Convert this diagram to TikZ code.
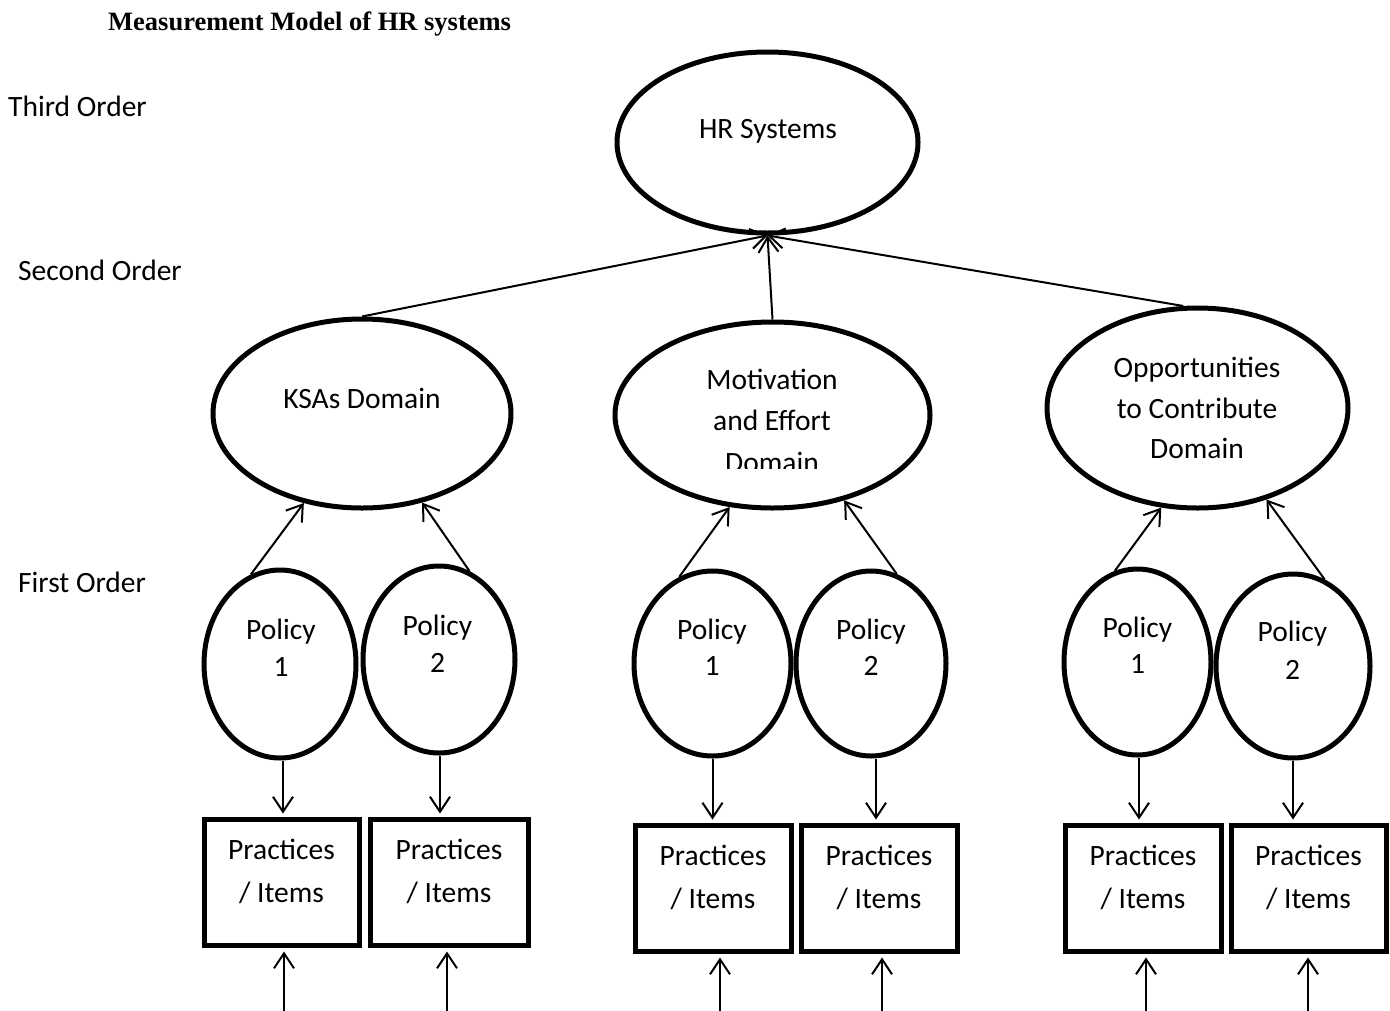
\documentclass[tikz,border=0pt]{standalone}
\usepackage{fontspec}
\setmainfont{Carlito}
\newfontfamily\titlefont{Liberation Serif}
\usetikzlibrary{arrows.meta,shapes.geometric}
\begin{document}
\begin{tikzpicture}[x=1pt,y=-1pt,
  lat/.style={draw, line width=5pt, ellipse, inner sep=0pt},
  obs/.style={draw, line width=5pt, rectangle, inner sep=0pt},
  arr/.style={line width=2pt, -{Straight Barb[length=15pt,width=20pt]}},
  txt/.style={anchor=base, inner sep=0pt, font=\fontsize{29.5}{35}\selectfont},
  side/.style={anchor=base west, inner sep=0pt, font=\fontsize{29.5}{35}\selectfont}]
\useasboundingbox (0,0) rectangle (1390,1010);

% title and level labels
\node[anchor=base west, inner sep=0pt, font=\titlefont\bfseries\fontsize{26.5}{30}\selectfont] (title) at (108,30) {Measurement Model of HR systems};
\node[side] (third) at (8,116) {Third Order};
\node[side] (second) at (18,280) {Second Order};
\node[side] (first) at (18,592) {First Order};

% third order
\node[lat, minimum width=301pt, minimum height=181pt] (hr) at (767.5,142.5) {};
\node[txt] (hrt) at (768,138) {HR Systems};

% second order
\node[lat, minimum width=298pt, minimum height=189pt] (ksa) at (362,413.5) {};
\node[txt] (ksat) at (362,408) {KSAs Domain};

\node[lat, minimum width=315pt, minimum height=186pt] (mot) at (772.5,415) {};
\node[txt] (mott1) at (772,389) {Motivation};
\node[txt] (mott2) at (772,430) {and Effort};
\begin{scope}
  \clip (600,300) rectangle (950,468.5);
  \node[txt] (mott3) at (772,472.5) {Domain};
\end{scope}

\node[lat, minimum width=301pt, minimum height=200pt] (opp) at (1197.5,408) {};
\node[txt] (oppt1) at (1197,377) {Opportunities};
\node[txt] (oppt2) at (1197,418) {to Contribute};
\node[txt] (oppt3) at (1197,458) {Domain};

% first order
\node[lat, minimum width=152pt, minimum height=188pt] (kp1) at (280,664) {};
\node[txt] (kp1a) at (281,639) {Policy};
\node[txt] (kp1b) at (281,676) {1};
\node[lat, minimum width=152pt, minimum height=187pt] (kp2) at (439,659.5) {};
\node[txt] (kp2a) at (437.5,635) {Policy};
\node[txt] (kp2b) at (437.5,672) {2};

\node[lat, minimum width=157pt, minimum height=185pt] (mp1) at (712.5,663.5) {};
\node[txt] (mp1a) at (712,639) {Policy};
\node[txt] (mp1b) at (712,675) {1};
\node[lat, minimum width=150pt, minimum height=185pt] (mp2) at (871,663.5) {};
\node[txt] (mp2a) at (871,639) {Policy};
\node[txt] (mp2b) at (871,675) {2};

\node[lat, minimum width=147pt, minimum height=186pt] (rp1) at (1137.5,662) {};
\node[txt] (rp1a) at (1137.5,637) {Policy};
\node[txt] (rp1b) at (1137.5,673) {1};
\node[lat, minimum width=154pt, minimum height=184pt] (rp2) at (1293,666) {};
\node[txt] (rp2a) at (1292.5,641) {Policy};
\node[txt] (rp2b) at (1292.5,679) {2};

% practices / items
\node[obs, minimum width=155pt, minimum height=126pt] (kb1) at (281.5,882) {};
\node[txt] (kb1a) at (281.5,859) {Practices};
\node[txt] (kb1b) at (281.5,902) {/ Items};
\node[obs, minimum width=158pt, minimum height=126pt] (kb2) at (449,882) {};
\node[txt] (kb2a) at (449,859) {Practices};
\node[txt] (kb2b) at (449,902) {/ Items};

\node[obs, minimum width=156pt, minimum height=126pt] (mb1) at (713,888) {};
\node[txt] (mb1a) at (713,865) {Practices};
\node[txt] (mb1b) at (713,908) {/ Items};
\node[obs, minimum width=156pt, minimum height=126pt] (mb2) at (879,888) {};
\node[txt] (mb2a) at (879,865) {Practices};
\node[txt] (mb2b) at (879,908) {/ Items};

\node[obs, minimum width=156pt, minimum height=126pt] (rb1) at (1143,888) {};
\node[txt] (rb1a) at (1143,865) {Practices};
\node[txt] (rb1b) at (1143,908) {/ Items};
\node[obs, minimum width=155pt, minimum height=126pt] (rb2) at (1308.5,888) {};
\node[txt] (rb2a) at (1308.5,865) {Practices};
\node[txt] (rb2b) at (1308.5,908) {/ Items};

% error inputs (free ends)
\coordinate (ke1) at (284,1014);
\coordinate (ke2) at (447,1014);
\coordinate (me1) at (720,1014);
\coordinate (me2) at (882,1014);
\coordinate (re1) at (1146,1014);
\coordinate (re2) at (1308,1014);

% connectors: second -> third
\draw[arr] (ksa.north) -- (hr.south);
\draw[arr] (mot.north) -- (hr.south);
\draw[arr] (opp.98) -- (hr.south);

% first -> second
\draw[arr] (kp1.108) -- (ksa.237);
\draw[arr] (kp2.71) -- (ksa.304);
\draw[arr] (mp1.111) -- (mot.245);
\draw[arr] (mp2.74) -- (mot.310);
\draw[arr] (rp1.104) -- (opp.250);
\draw[arr] (rp2.70) -- (opp.307);

% first order -> items
\draw[arr, shorten >=3pt] ([xshift=3pt]kp1.south) -- ([xshift=3pt]kp1.south |- kb1.north);
\draw[arr, shorten >=3pt] ([xshift=1pt]kp2.south) -- ([xshift=1pt]kp2.south |- kb2.north);
\draw[arr, shorten >=3pt] (mp1.south) -- (mp1.south |- mb1.north);
\draw[arr, shorten >=3pt] ([xshift=5pt]mp2.south) -- ([xshift=5pt]mp2.south |- mb2.north);
\draw[arr, shorten >=3pt] ([xshift=1.5pt]rp1.south) -- ([xshift=1.5pt]rp1.south |- rb1.north);
\draw[arr, shorten >=3pt] (rp2.south) -- (rp2.south |- rb2.north);

% errors -> items
\draw[arr, shorten >=4pt] (ke1) -- (ke1 |- kb1.south);
\draw[arr, shorten >=4pt] (ke2) -- (ke2 |- kb2.south);
\draw[arr, shorten >=4pt] (me1) -- (me1 |- mb1.south);
\draw[arr, shorten >=4pt] (me2) -- (me2 |- mb2.south);
\draw[arr, shorten >=4pt] (re1) -- (re1 |- rb1.south);
\draw[arr, shorten >=4pt] (re2) -- (re2 |- rb2.south);
\end{tikzpicture}
\end{document}
